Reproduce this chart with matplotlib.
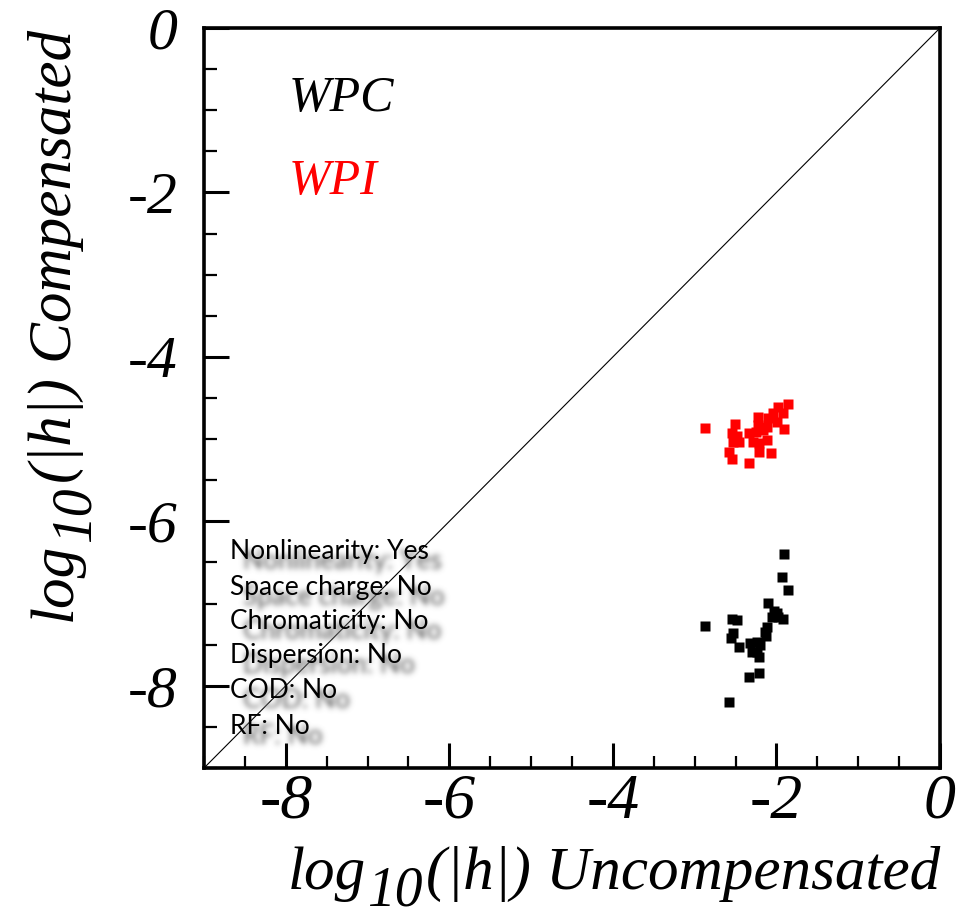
import matplotlib
matplotlib.use("Agg")
import matplotlib.pyplot as plt
import numpy as np
from matplotlib.ticker import MultipleLocator

# log10(|h|) of uncompensated vs compensated resonance driving terms
wpi_x = [-2.877, -2.503, -2.547, -2.479, -2.528, -2.462, -2.577, -2.540, -2.332,
         -2.229, -2.336, -2.250, -2.291, -2.210, -2.210, -2.112, -2.070, -2.161,
         -2.100, -2.039, -1.997, -1.977, -1.916, -1.908, -1.859, -2.112, -2.230]
wpi_y = [-4.870, -4.821, -4.923, -4.964, -5.033, -5.033, -5.155, -5.240, -5.296,
         -4.729, -4.923, -4.911, -5.033, -5.052, -5.155, -5.012, -5.174, -4.891,
         -4.748, -4.687, -4.790, -4.607, -4.687, -4.882, -4.574, -4.850, -4.830]

wpc_x = [-1.908, -1.929, -1.859, -2.100, -2.026, -2.058, -1.977, -1.916, -2.540,
         -2.486, -2.874, -2.528, -2.559, -2.462, -2.112, -2.140, -2.128, -2.324,
         -2.242, -2.201, -2.303, -2.234, -2.210, -2.217, -2.339, -2.577, -1.997]
wpc_y = [-6.395, -6.683, -6.837, -6.991, -7.092, -7.162, -7.162, -7.193, -7.193,
         -7.202, -7.271, -7.356, -7.425, -7.534, -7.283, -7.344, -7.397, -7.485,
         -7.466, -7.506, -7.588, -7.588, -7.648, -7.843, -7.892, -8.200, -7.120]

settings = ["Nonlinearity: Yes", "Space charge: No", "Chromaticity: No",
            "Dispersion: No", "COD: No", "RF: No"]

ticks = [-8, -6, -4, -2, 0]

W, H = 959, 922
fig = plt.figure(figsize=(W / 100, H / 100), dpi=100)
ax = fig.add_axes([204 / W, 1 - 768 / H, 736 / W, 740 / H])

ax.plot([-9, 0], [-9, 0], color="black", lw=0.8, zorder=1)
ax.plot(wpi_x, wpi_y, "s", color="red", ms=7, mec="none", zorder=3)
ax.plot(wpc_x, wpc_y, "s", color="black", ms=7, mec="none", zorder=3)

ax.set_xlim(-9, 0)
ax.set_ylim(-9, 0)

serif = dict(family="Liberation Serif", style="italic")
ax.set_xticks(ticks)
ax.set_yticks(ticks)
ax.set_xticklabels([str(t) for t in ticks], fontsize=46, **serif)
ax.set_yticklabels([str(t) for t in ticks], fontsize=43, **serif)
ax.xaxis.set_minor_locator(MultipleLocator(0.5))
ax.yaxis.set_minor_locator(MultipleLocator(0.5))
ax.tick_params(which="major", direction="in", length=18, width=2.2,
               top=False, right=False)
ax.tick_params(which="minor", direction="in", length=9, width=1.6,
               top=False, right=False)
ax.tick_params(axis="x", which="major", pad=4)
ax.tick_params(axis="y", which="major", pad=19)
for sp in ax.spines.values():
    sp.set_linewidth(2.6)

LAB = 44
SUB = 40

# x-axis title: log, large subscript 10, then the rest, right-aligned to the axes
xl3 = fig.text(940 / W, 1 - 889 / H, "(|h|) Uncompensated", fontsize=LAB,
               ha="right", va="baseline", **serif)
xl2 = ax.annotate("10", xy=(0, 0), xycoords=xl3, xytext=(-3, -15),
                  textcoords="offset pixels", fontsize=SUB, ha="right",
                  va="bottom", annotation_clip=False, **serif)
xl1 = ax.annotate("log", xy=(0, 0), xycoords=(xl2, xl3), xytext=(-1, 0),
                  textcoords="offset pixels", fontsize=LAB, ha="right",
                  va="bottom", annotation_clip=False, **serif)

# y-axis title, reading upwards, ending at the top of the axes
yl3 = fig.text(84 / W, 1 - 30 / H, "(|h|) Compensated", fontsize=LAB,
               rotation=90, rotation_mode="anchor", ha="right", va="bottom",
               **serif)
yl2 = ax.annotate("10", xy=(1, 0), xycoords=yl3, xytext=(18, -3),
                  textcoords="offset pixels", fontsize=SUB, rotation=90,
                  rotation_mode="anchor", ha="right", va="bottom",
                  annotation_clip=False, **serif)
yl1 = ax.annotate("log", xy=(1, 0), xycoords=(yl3, yl2), xytext=(0, -1),
                  textcoords="offset pixels", fontsize=LAB, rotation=90,
                  rotation_mode="anchor", ha="right", va="bottom",
                  annotation_clip=False, **serif)

ax.text(0.115, 0.905, "WPC", transform=ax.transAxes, fontsize=36,
        color="black", va="center", **serif)
ax.text(0.115, 0.792, "WPI", transform=ax.transAxes, fontsize=36,
        color="red", va="center", **serif)


def soft_shadow(im, dpi, sigma=2.0, gain=1.15, gray=0.5):
    """Agg filter: gaussian-blurred gray silhouette used as a drop shadow."""
    r = int(3 * sigma) + 1
    a = np.pad(im[..., 3], ((r, r), (r, r)))
    k = np.exp(-0.5 * (np.arange(-r, r + 1) / sigma) ** 2)
    k /= k.sum()
    out = np.zeros_like(a)
    for i, w in enumerate(k):
        out += w * np.roll(a, i - r, axis=0)
    out2 = np.zeros_like(a)
    for i, w in enumerate(k):
        out2 += w * np.roll(out, i - r, axis=1)
    img = np.empty(a.shape + (4,), dtype=im.dtype)
    img[..., :3] = gray
    img[..., 3] = np.clip(out2 * gain, 0, 1)
    return img, -r, -r


# settings list with a soft drop shadow
x0 = 230
y_lines = [551, 587, 621, 655, 690, 726]
for label, yp in zip(settings, y_lines):
    xd, yd = ax.transData.inverted().transform((x0, H - yp))
    sh = ax.annotate(label, (xd, yd), xytext=(13, -10),
                     textcoords="offset pixels", fontsize=19, family="Lato",
                     color="#808080", va="center", ha="left", zorder=2)
    sh.set_agg_filter(soft_shadow)
    ax.annotate(label, (xd, yd), fontsize=19, family="Lato", color="black",
                va="center", ha="left", zorder=4)

fig.savefig("out.png", dpi=100)
